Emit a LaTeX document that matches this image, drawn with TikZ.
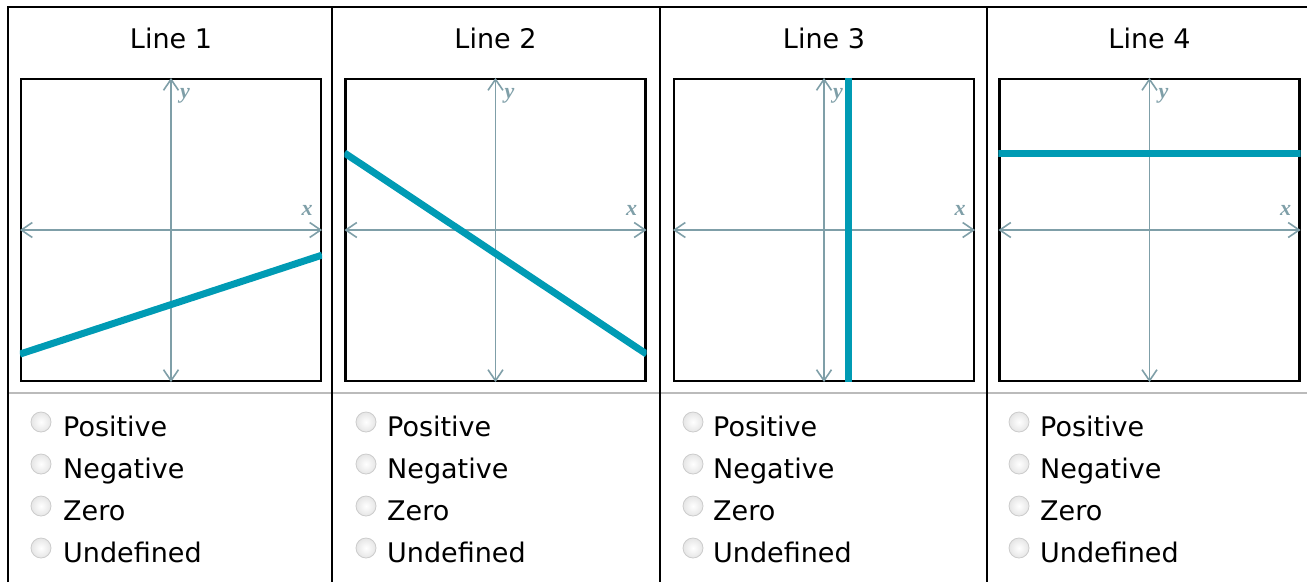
\documentclass[tikz,border=0pt]{standalone}
\usepackage{fontspec}
\setmainfont{DejaVu Sans}
\newfontfamily\lblfont{Liberation Serif}
\usetikzlibrary{arrows.meta,calc}
\definecolor{axisc}{HTML}{7F9FA8}
\definecolor{linec}{HTML}{009BB4}
\definecolor{sepc}{HTML}{BBBBBB}
\begin{document}
\begin{tikzpicture}[x=1pt,y=-1pt,
  frame/.style={line width=2pt, black},
  graphbox/.style={draw=black, line width=2.2pt, minimum width=300pt, minimum height=302pt, inner sep=0pt},
  axis/.style={draw=axisc, line width=1.6pt, {Straight Barb[length=11pt,width=15pt]}-{Straight Barb[length=11pt,width=15pt]}},
  slope/.style={draw=linec, line width=7pt},
  title/.style={font=\fontsize{27}{30}\selectfont, inner sep=0pt, anchor=base},
  opt/.style={font=\fontsize{27}{30}\selectfont, anchor=base west, inner sep=0pt},
  radio/.style={circle, minimum size=20pt, inner sep=0pt, draw=gray!40, line width=0.8pt, inner color=white, outer color=gray!20},
  axlbl/.style={font=\lblfont\bfseries\itshape\fontsize{22}{22}\selectfont, text=axisc, inner sep=0pt}
]
\useasboundingbox (0,0) rectangle (1307,582);
% separator
\draw[sepc, line width=1.5pt] (9,393) -- (1307,393);
% frame
\draw[frame] (8,582) -- (8,7) -- (1307,7);
\foreach \x in {332,660,987} \draw[frame] (\x,7) -- (\x,582);
% titles and boxes
\foreach \i/\cx in {1/171,2/495.5,3/824,4/1149.5}{
  \node[title] (t\i) at (\cx,48) {Line \i};
  \node[graphbox] (b\i) at (\cx,230) {};
  \draw[axis] (b\i.south) -- (b\i.north);
  \draw[axis] (b\i.west) -- (b\i.east);
  \node[axlbl] (y\i) at ($(b\i.north)+(14,18)$) {y};
  \node[axlbl] (x\i) at ($(b\i.east)+(-15,-20)$) {x};
}
% slope lines
\begin{scope}
  \clip (b1.south west) rectangle (b1.north east);
  \draw[slope] ($(b1.south west)+(0,-28)$) -- ($(b1.south east)+(0,-127)$);
\end{scope}
\begin{scope}
  \clip (b2.south west) rectangle (b2.north east);
  \draw[slope] ($(b2.north west)+(0,75)$) -- ($(b2.south east)+(0,-28)$);
\end{scope}
\begin{scope}
  \clip (b3.south west) rectangle (b3.north east);
  \draw[slope] ($(b3.north)+(24,0)$) -- ($(b3.south)+(24,0)$);
\end{scope}
\begin{scope}
  \clip (b4.south west) rectangle (b4.north east);
  \draw[slope] ($(b4.north west)+(0,76)$) -- ($(b4.north east)+(0,76)$);
\end{scope}
% options
\foreach \i/\rx/\tx in {1/41/63,2/366/387,3/693/713,4/1019/1040}{
  \foreach \j/\w in {0/Positive,1/Negative,2/Zero,3/Undefined}{
    \node[radio] (r\i\j) at (\rx,422+42*\j) {};
    \node[opt] (o\i\j) at (\tx,436+42*\j) {\w};
  }
}
\end{tikzpicture}
\end{document}
